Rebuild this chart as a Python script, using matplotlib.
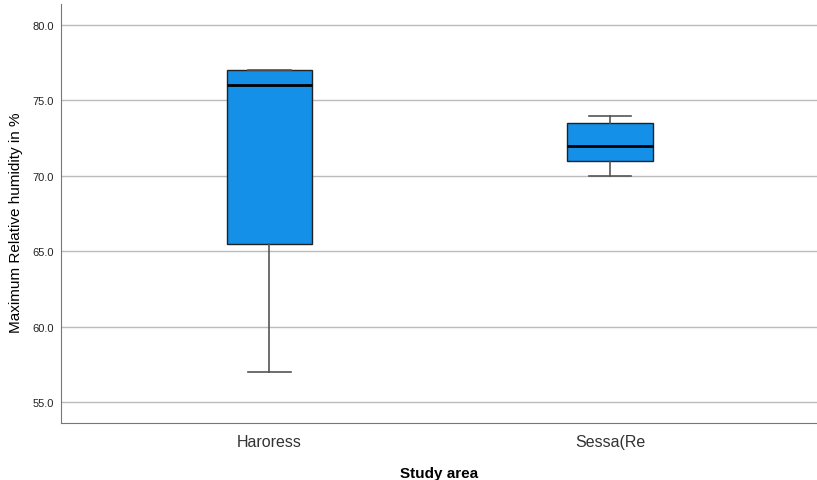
import matplotlib
matplotlib.use("Agg")
import matplotlib.pyplot as plt

plt.rcParams["font.family"] = ["Liberation Sans", "DejaVu Sans"]

categories = ["Haroress", "Sessa(Re"]
whislo = [57.0, 70.0]
q1 = [65.5, 71.0]
med = [76.0, 72.0]
q3 = [77.0, 73.5]
whishi = [77.0, 74.0]
yticks = [55.0, 60.0, 65.0, 70.0, 75.0, 80.0]

fig = plt.figure(figsize=(8.17, 4.81), dpi=100)
ax = fig.add_axes([0.0747, 0.1185, 0.9253, 0.8711])

stats = [dict(label=c, whislo=a, q1=b, med=m, q3=d, whishi=e, fliers=[])
         for c, a, b, m, d, e in zip(categories, whislo, q1, med, q3, whishi)]
ax.bxp(stats, positions=[0, 1], widths=0.25, patch_artist=True,
       boxprops=dict(facecolor="#1590E8", edgecolor="#222222", linewidth=1.0),
       medianprops=dict(color="black", linewidth=2.0),
       whiskerprops=dict(color="#555555", linewidth=1.2),
       capprops=dict(color="#555555", linewidth=1.2),
       capwidths=0.125, zorder=3)

ax.set_xlim(-0.612, 1.608)
ax.set_ylim(53.6, 81.4)
ax.set_yticks(yticks)
ax.set_yticklabels([f"{v:.1f}" for v in yticks], fontsize=8, color="#222222")
ax.set_xticks([0, 1])
ax.set_xticklabels(categories, fontsize=11.5, color="#333333")
ax.tick_params(axis="both", length=0)
ax.tick_params(axis="x", pad=8)
ax.tick_params(axis="y", pad=5)
ax.grid(axis="y", color="#BBBBBB", linewidth=1.0, zorder=0)
ax.set_axisbelow(True)
for s in ["top", "right"]:
    ax.spines[s].set_visible(False)
ax.spines["left"].set_color("#777777")
ax.spines["bottom"].set_color("#777777")

ax.set_xlabel("Study area", fontsize=11, fontweight="bold", labelpad=12)
ax.set_ylabel("Maximum Relative humidity in %", fontsize=11, color="black")
ax.yaxis.set_label_coords(-0.050, 0.48)

fig.savefig("out.png", dpi=100)
